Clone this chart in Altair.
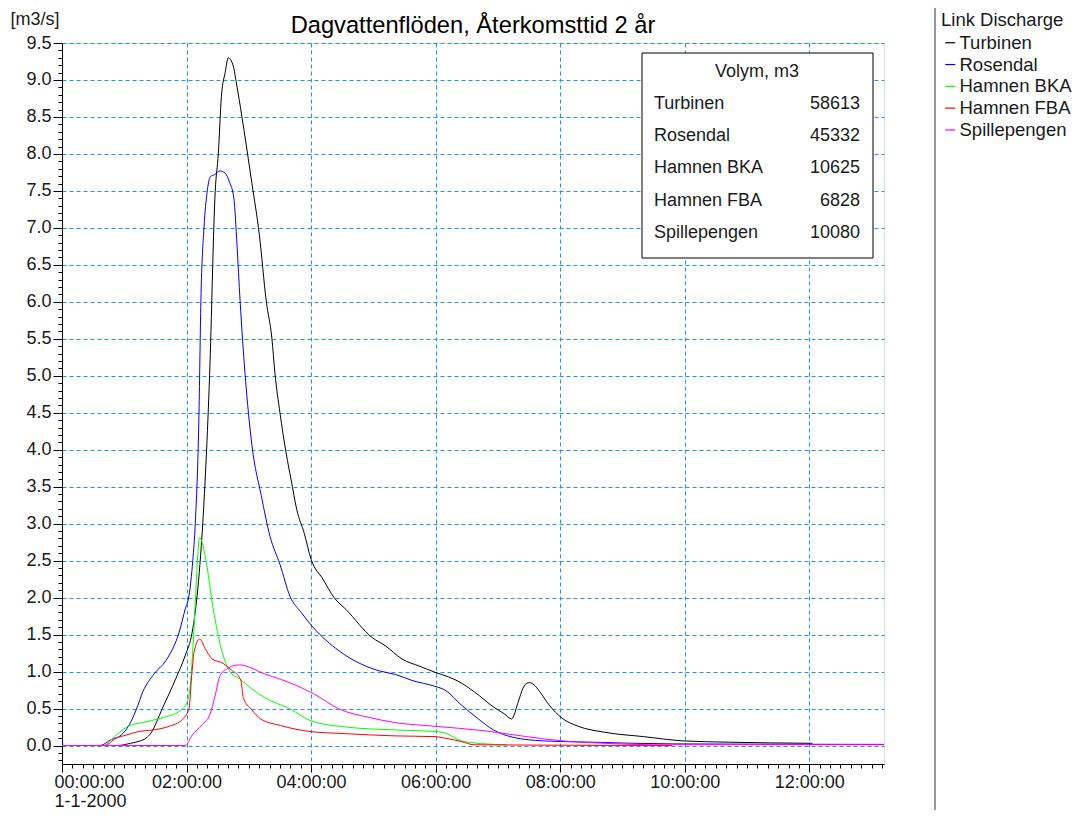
import altair as alt
import pandas as pd

# ---------------- data (hours since 00:00, m3/s) ----------------
series_names = ["Turbinen", "Rosendal", "Hamnen BKA", "Hamnen FBA", "Spillepengen"]
series_colors = ["#000000", "#0000FF", "#00FF00", "#FF0000", "#FF00FF"]
volumes = [58613, 45332, 10625, 6828, 10080]
chart_title = "Dagvattenflöden, Återkomsttid 2 år"

turbinen_t = [0, 0.9, 1.1, 1.25, 1.35, 1.43, 1.52, 1.61, 1.72, 1.83, 1.98, 2.09, 2.17, 2.26, 2.37,
              2.46, 2.51, 2.56, 2.62, 2.67, 2.75, 2.80, 2.89, 2.98, 3.05, 3.17, 3.28, 3.37, 3.42,
              3.50, 3.60, 3.68, 3.77, 3.89, 4.0, 4.19, 4.37, 4.56, 4.98, 5.19, 5.46, 5.75, 5.99,
              6.2, 6.36, 6.63, 6.93, 7.1, 7.22, 7.33, 7.40, 7.46, 7.51, 7.58, 7.67, 7.82, 8.03,
              8.29, 8.71, 9.34, 9.97, 10.70, 12.05]
turbinen_q = [0, 0, 0.03, 0.06, 0.10, 0.17, 0.32, 0.50, 0.70, 0.91, 1.22, 1.53, 2.03, 3.0, 5.0,
              7.49, 8.0, 8.78, 9.1, 9.30, 9.19, 8.96, 8.5, 8.0, 7.6, 6.9, 6.01, 5.51, 5.03,
              4.5, 3.95, 3.59, 3.19, 2.87, 2.52, 2.25, 2.0, 1.84, 1.46, 1.35, 1.17, 1.07, 0.99,
              0.93, 0.87, 0.72, 0.52, 0.43, 0.36, 0.6, 0.77, 0.84, 0.85, 0.82, 0.73, 0.55, 0.37,
              0.26, 0.18, 0.12, 0.063, 0.045, 0.03]

rosendal_t = [0, 0.61, 0.79, 0.95, 1.08, 1.19, 1.30, 1.48, 1.67, 1.88, 1.98, 2.04, 2.10, 2.14,
              2.20, 2.23, 2.28, 2.33, 2.38, 2.45, 2.54, 2.62, 2.69, 2.76, 2.81, 2.86, 2.94, 3.05,
              3.20, 3.34, 3.50, 3.66, 3.84, 4.03, 4.45, 5.09, 5.36, 5.62, 5.99, 6.15, 6.41, 6.67,
              6.93, 7.25, 7.72, 8.50, 9.81, 13.2]
rosendal_q = [0, 0, 0.08, 0.14, 0.28, 0.48, 0.73, 0.97, 1.15, 1.53, 1.85, 2.03, 2.5, 3.0,
              4.5, 6.0, 7.0, 7.48, 7.69, 7.72, 7.77, 7.74, 7.62, 7.40, 6.77, 6.01, 5.02, 4.06,
              3.38, 2.83, 2.45, 2.02, 1.80, 1.60, 1.28, 1.01, 0.96, 0.88, 0.80, 0.75, 0.55, 0.37,
              0.21, 0.11, 0.063, 0.045, 0.022, 0.015]

bka_t = [0, 0.66, 0.87, 1.06, 1.35, 1.67, 1.88, 2.01, 2.06, 2.11, 2.14, 2.21, 2.30, 2.43, 2.56,
         2.69, 2.85, 3.25, 3.67, 3.98, 4.56, 5.36, 5.99, 6.15, 6.41, 6.72, 7.14]
bka_q = [0, 0, 0.14, 0.26, 0.32, 0.39, 0.46, 0.59, 0.82, 1.44, 1.93, 2.81, 2.56, 1.84, 1.30,
         1.01, 0.90, 0.65, 0.49, 0.34, 0.25, 0.21, 0.19, 0.17, 0.063, 0.027, 0.01]

fba_t = [0, 0.69, 0.87, 1.03, 1.24, 1.46, 1.72, 1.93, 2.04, 2.08, 2.12, 2.21, 2.30, 2.41, 2.59,
         2.72, 2.85, 2.88, 2.91, 3.04, 3.19, 3.51, 3.98, 4.56, 5.36, 5.99, 6.15, 6.41, 6.62, 9.8]
fba_q = [0, 0, 0.10, 0.14, 0.19, 0.21, 0.26, 0.35, 0.50, 0.91, 1.26, 1.44, 1.31, 1.17, 1.11,
         1.02, 0.92, 0.85, 0.65, 0.49, 0.36, 0.27, 0.19, 0.16, 0.13, 0.12, 0.10, 0.054, 0.01, 0.0]

spill_t = [0, 1.98, 2.09, 2.25, 2.38, 2.46, 2.54, 2.64, 2.75, 2.85, 3.25, 3.77, 4.04, 4.46,
           4.93, 5.35, 5.99, 6.78, 7.46, 7.98, 8.71, 9.5, 13.2]
spill_q = [0, 0, 0.14, 0.28, 0.43, 0.68, 0.95, 1.03, 1.08, 1.09, 0.97, 0.81, 0.70, 0.49,
           0.38, 0.31, 0.26, 0.20, 0.12, 0.067, 0.03, 0.01, 0.01]

all_t = [turbinen_t, rosendal_t, bka_t, fba_t, spill_t]
all_q = [turbinen_q, rosendal_q, bka_q, fba_q, spill_q]

rows = []
for i, name in enumerate(series_names):
    for t, q in zip(all_t[i], all_q[i]):
        rows.append({"series": name, "t": t, "q": q, "k": i})
df = pd.DataFrame(rows)

# ---------------- layout ----------------
W, H = 822, 721
XMAX = 13.2
YMIN, YMAX = -0.25, 9.5
FONT = "Liberation Sans"
TXT = "#1a1a1a"
GRID = "#1E90FF"
FS = 18

x_ticks = [i / 6 for i in range(0, 80)]
y_ticks = [round(-0.2 + 0.1 * i, 1) for i in range(0, 98)]

x_major = "abs(datum.value/2 - round(datum.value/2)) < 0.01"
y_major = "abs(datum.value*2 - round(datum.value*2)) < 0.01"

x_label = (f"{x_major} ? (datum.value < 0.01 ? ['00:00:00', '1-1-2000'] : "
           "((round(datum.value) < 10 ? '0' : '') + round(datum.value) + ':00:00')) : ''")
y_label = f"{y_major} ? format(datum.value, '.1f') : ''"

x_axis = alt.Axis(
    values=x_ticks, labelExpr=x_label, title=None,
    tickSize={"condition": {"test": x_major, "value": 8}, "value": 4},
    gridOpacity={"condition": {"test": x_major, "value": 1}, "value": 0},
    grid=True, gridDash=[4, 3], gridColor=GRID, gridWidth=1,
    domainColor="#000000", tickColor="#000000",
    labelFont=FONT, labelFontSize=FS, labelColor=TXT, labelPadding=1,
    labelFlush=True, labelFlushOffset=8, labelOverlap=False, labelLineHeight=19,
)
y_axis = alt.Axis(
    values=y_ticks, labelExpr=y_label, title="[m3/s]",
    tickSize={"condition": {"test": y_major, "value": 9}, "value": 4},
    gridOpacity={"condition": {"test": y_major, "value": 1}, "value": 0},
    grid=True, gridDash=[4, 3], gridColor=GRID, gridWidth=1,
    domainColor="#000000", tickColor="#000000",
    labelFont=FONT, labelFontSize=FS, labelColor=TXT, labelPadding=2,
    labelOverlap=False,
    titleAngle=0, titleX=-52, titleY=-24, titleAlign="left", titleBaseline="middle",
    titleFont=FONT, titleFontSize=FS, titleFontWeight="normal", titleColor=TXT,
)

lines = alt.Chart(df).mark_line(strokeWidth=1, interpolate="monotone", clip=True).encode(
    x=alt.X("t:Q", scale=alt.Scale(domain=[0, XMAX], nice=False, zero=False), axis=x_axis),
    y=alt.Y("q:Q", scale=alt.Scale(domain=[YMIN, YMAX], nice=False, zero=False), axis=y_axis),
    color=alt.Color(
        "series:N",
        scale=alt.Scale(domain=series_names, range=series_colors),
        legend=alt.Legend(
            orient="none", legendX=879, legendY=-32, title="Link Discharge",
            symbolType="stroke", symbolSize=100, symbolStrokeWidth=1.2,
            labelFont=FONT, labelFontSize=18.5, labelColor=TXT, labelOffset=0,
            titleFont=FONT, titleFontSize=18.5, titleFontWeight="normal", titleColor=TXT,
            titlePadding=4, rowPadding=2.8, padding=0, labelLimit=200,
        ),
    ),
    detail="series:N",
    order="k:Q",
)

dummy = pd.DataFrame({"a": [0]})

title_text = alt.Chart(dummy).mark_text(
    font=FONT, fontSize=23.7, color="#000000", align="center", baseline="middle"
).encode(x=alt.value(W / 2), y=alt.value(-17), text=alt.value(chart_title))

# separator line left of the legend
sep = alt.Chart(dummy).mark_rule(color="#333333", strokeWidth=1).encode(
    x=alt.value(873), y=alt.value(-36), y2=alt.value(782)
)

# volume table box
box = alt.Chart(dummy).mark_rect(fill="white", stroke="#000000", strokeWidth=1).encode(
    x=alt.value(580), x2=alt.value(811), y=alt.value(10), y2=alt.value(215)
)
box_title = alt.Chart(dummy).mark_text(
    font=FONT, fontSize=FS, color=TXT, align="center", baseline="middle"
).encode(x=alt.value(695), y=alt.value(29), text=alt.value("Volym, m3"))

table_layers = []
for i, (name, vol) in enumerate(zip(series_names, volumes)):
    yy = 61 + 32.2 * i
    table_layers.append(
        alt.Chart(dummy).mark_text(font=FONT, fontSize=FS, color=TXT, align="left",
                                   baseline="middle")
        .encode(x=alt.value(592), y=alt.value(yy), text=alt.value(name))
    )
    table_layers.append(
        alt.Chart(dummy).mark_text(font=FONT, fontSize=FS, color=TXT, align="right",
                                   baseline="middle")
        .encode(x=alt.value(798), y=alt.value(yy), text=alt.value(str(vol)))
    )

chart = alt.layer(lines, title_text, sep, box, box_title, *table_layers).properties(
    width=W, height=H,
    autosize="none",
    padding={"left": 54, "top": 35, "right": 190, "bottom": 46},
).configure_view(stroke="#000000", strokeWidth=1).configure(background="white")

chart.save("out.html", embed_options={"renderer": "svg", "actions": False})
